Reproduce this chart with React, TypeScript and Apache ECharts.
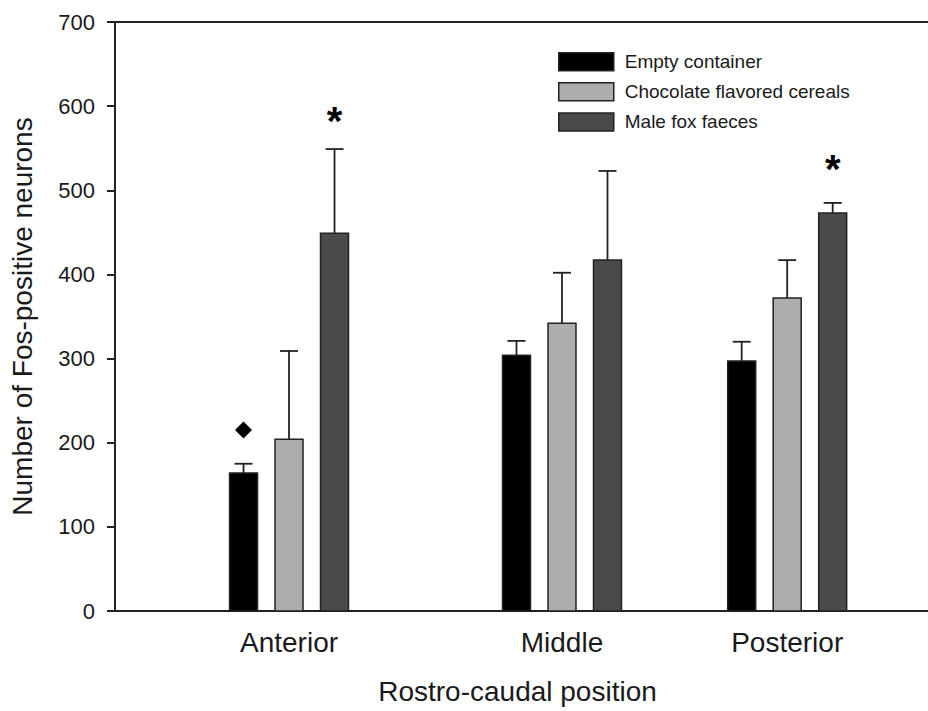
import React, { useEffect, useRef } from 'react';
import * as echarts from 'echarts';

// ---------- data ----------
const categories = ['Anterior', 'Middle', 'Posterior'];
const categoryPositions = [1, 2.2, 3.19]; // rostro-caudal position (axis units)
const seriesNames = ['Empty container', 'Chocolate flavored cereals', 'Male fox faeces'];
const emptyMean = [164, 304, 297];
const emptyUpper = [175, 321, 320];
const cerealMean = [204, 342, 372];
const cerealUpper = [309, 402, 417];
const foxMean = [449, 417, 473];
const foxUpper = [549, 523, 485];
const diamondMarks = [{ category: 'Anterior', series: 0, value: 215 }];
const asteriskMarks = [
  { category: 'Anterior', series: 2, value: 590 },
  { category: 'Posterior', series: 2, value: 532 },
];
const yMin = 0;
const yMax = 700;
const yInterval = 100;

// ---------- style ----------
const FONT = '"Liberation Sans", Arial, Helvetica, sans-serif';
const TEXT = '#1a1a1a';
const LINE = '#222';
const FILLS = ['#000000', '#adadad', '#4a4a4a'];
const GROUP_OFFSETS = [-0.2, 0, 0.2];
const BAR_WIDTH = 0.123;
const CAP_HALF = 9;
const X_MIN = 0.235;
const X_MAX = 3.809;

const means = [emptyMean, cerealMean, foxMean];
const uppers = [emptyUpper, cerealUpper, foxUpper];

function barSeries(si: number) {
  return {
    type: 'custom',
    name: seriesNames[si],
    itemStyle: { color: FILLS[si], borderColor: LINE, borderWidth: 1.5 },
    data: categories.map((_, i) => [categoryPositions[i], means[si][i], uppers[si][i]]),
    encode: { x: 0, y: 1 },
    renderItem: (params: any, api: any) => {
      const pos = api.value(0) + GROUP_OFFSETS[si];
      const val = api.value(1);
      const up = api.value(2);
      const p0 = api.coord([pos - BAR_WIDTH / 2, yMin]);
      const p1 = api.coord([pos + BAR_WIDTH / 2, val]);
      const pc = api.coord([pos, val]);
      const pu = api.coord([pos, up]);
      return {
        type: 'group',
        children: [
          {
            type: 'line',
            shape: { x1: pc[0], y1: pc[1], x2: pu[0], y2: pu[1] },
            style: { stroke: LINE, lineWidth: 1.8 },
          },
          {
            type: 'line',
            shape: { x1: pu[0] - CAP_HALF, y1: pu[1], x2: pu[0] + CAP_HALF, y2: pu[1] },
            style: { stroke: LINE, lineWidth: 1.8 },
          },
          {
            type: 'rect',
            shape: { x: p0[0], y: p1[1], width: p1[0] - p0[0], height: p0[1] - p1[1] },
            style: { fill: FILLS[si], stroke: LINE, lineWidth: 1.5 },
          },
        ],
      };
    },
    z: 3,
  };
}

export default function App() {
  const ref = useRef<HTMLDivElement>(null);
  useEffect(() => {
    if (!ref.current) return;
    const chart = echarts.init(ref.current, null, { renderer: 'svg' });
    const option: any = {
      animation: false,
      backgroundColor: '#ffffff',
      textStyle: { fontFamily: FONT },
      grid: { left: 115, right: 0, top: 22, bottom: 100, containLabel: false },
      legend: {
        orient: 'vertical',
        left: 558,
        top: 52,
        padding: 0,
        itemWidth: 55,
        itemHeight: 18,
        itemGap: 10.6,
        icon: 'rect',
        selectedMode: false,
        textStyle: { fontSize: 19, color: TEXT, fontFamily: FONT, padding: [0, 0, 0, 6], lineHeight: 18 },
        data: seriesNames.map((n, i) => ({
          name: n,
          itemStyle: { color: FILLS[i], borderColor: LINE, borderWidth: 1.5 },
        })),
      },
      xAxis: [
        {
          type: 'value',
          min: X_MIN,
          max: X_MAX,
          position: 'bottom',
          name: 'Rostro-caudal position',
          nameLocation: 'middle',
          nameGap: 66,
          nameTextStyle: { fontSize: 28, color: TEXT, fontFamily: FONT, padding: [0, 8, 0, 0] },
          axisLine: { show: true, lineStyle: { color: LINE, width: 2 } },
          axisTick: { show: false },
          splitLine: { show: false },
          axisLabel: {
            customValues: categoryPositions,
            formatter: (v: number) => {
              const idx = categoryPositions.findIndex((p) => Math.abs(p - v) < 1e-6);
              return idx >= 0 ? categories[idx] : '';
            },
            fontSize: 28,
            color: TEXT,
            fontFamily: FONT,
            margin: 17,
          },
        },
        {
          type: 'value',
          min: X_MIN,
          max: X_MAX,
          position: 'top',
          axisLine: { show: true, onZero: false, lineStyle: { color: LINE, width: 2 } },
          axisTick: { show: false },
          axisLabel: { show: false },
          splitLine: { show: false },
        },
      ],
      yAxis: {
        type: 'value',
        min: yMin,
        max: yMax,
        interval: yInterval,
        name: 'Number of Fos-positive neurons',
        nameLocation: 'middle',
        nameGap: 79,
        nameTextStyle: { fontSize: 28, color: TEXT, fontFamily: FONT },
        axisLine: { show: true, lineStyle: { color: LINE, width: 2 } },
        axisTick: { show: true, inside: false, length: 8, lineStyle: { color: LINE, width: 2 } },
        splitLine: { show: false },
        axisLabel: { fontSize: 22, color: TEXT, fontFamily: FONT, margin: 20 },
      },
      series: [
        barSeries(0),
        barSeries(1),
        barSeries(2),
        {
          type: 'scatter',
          name: 'diamond',
          symbol: 'diamond',
          symbolSize: [17, 17],
          itemStyle: { color: '#000', opacity: 1 },
          data: diamondMarks.map((m) => [
            categoryPositions[categories.indexOf(m.category)] + GROUP_OFFSETS[m.series],
            m.value,
          ]),
          z: 4,
        },
        {
          type: 'custom',
          name: 'asterisk',
          data: asteriskMarks.map((m) => [
            categoryPositions[categories.indexOf(m.category)] + GROUP_OFFSETS[m.series],
            m.value,
          ]),
          encode: { x: 0, y: 1 },
          renderItem: (params: any, api: any) => {
            const p = api.coord([api.value(0), api.value(1)]);
            return {
              type: 'text',
              x: p[0],
              y: p[1] + 6,
              style: {
                text: '*',
                fill: '#000',
                font: 'bold 40px ' + FONT,
                textAlign: 'center',
                textVerticalAlign: 'middle',
              },
            };
          },
          z: 4,
        },
      ],
    };
    chart.setOption(option);
    return () => chart.dispose();
  }, []);
  return (
    <div
      ref={ref}
      style={{ position: 'fixed', left: 0, top: 0, width: 928, height: 711, background: '#fff' }}
    />
  );
}
